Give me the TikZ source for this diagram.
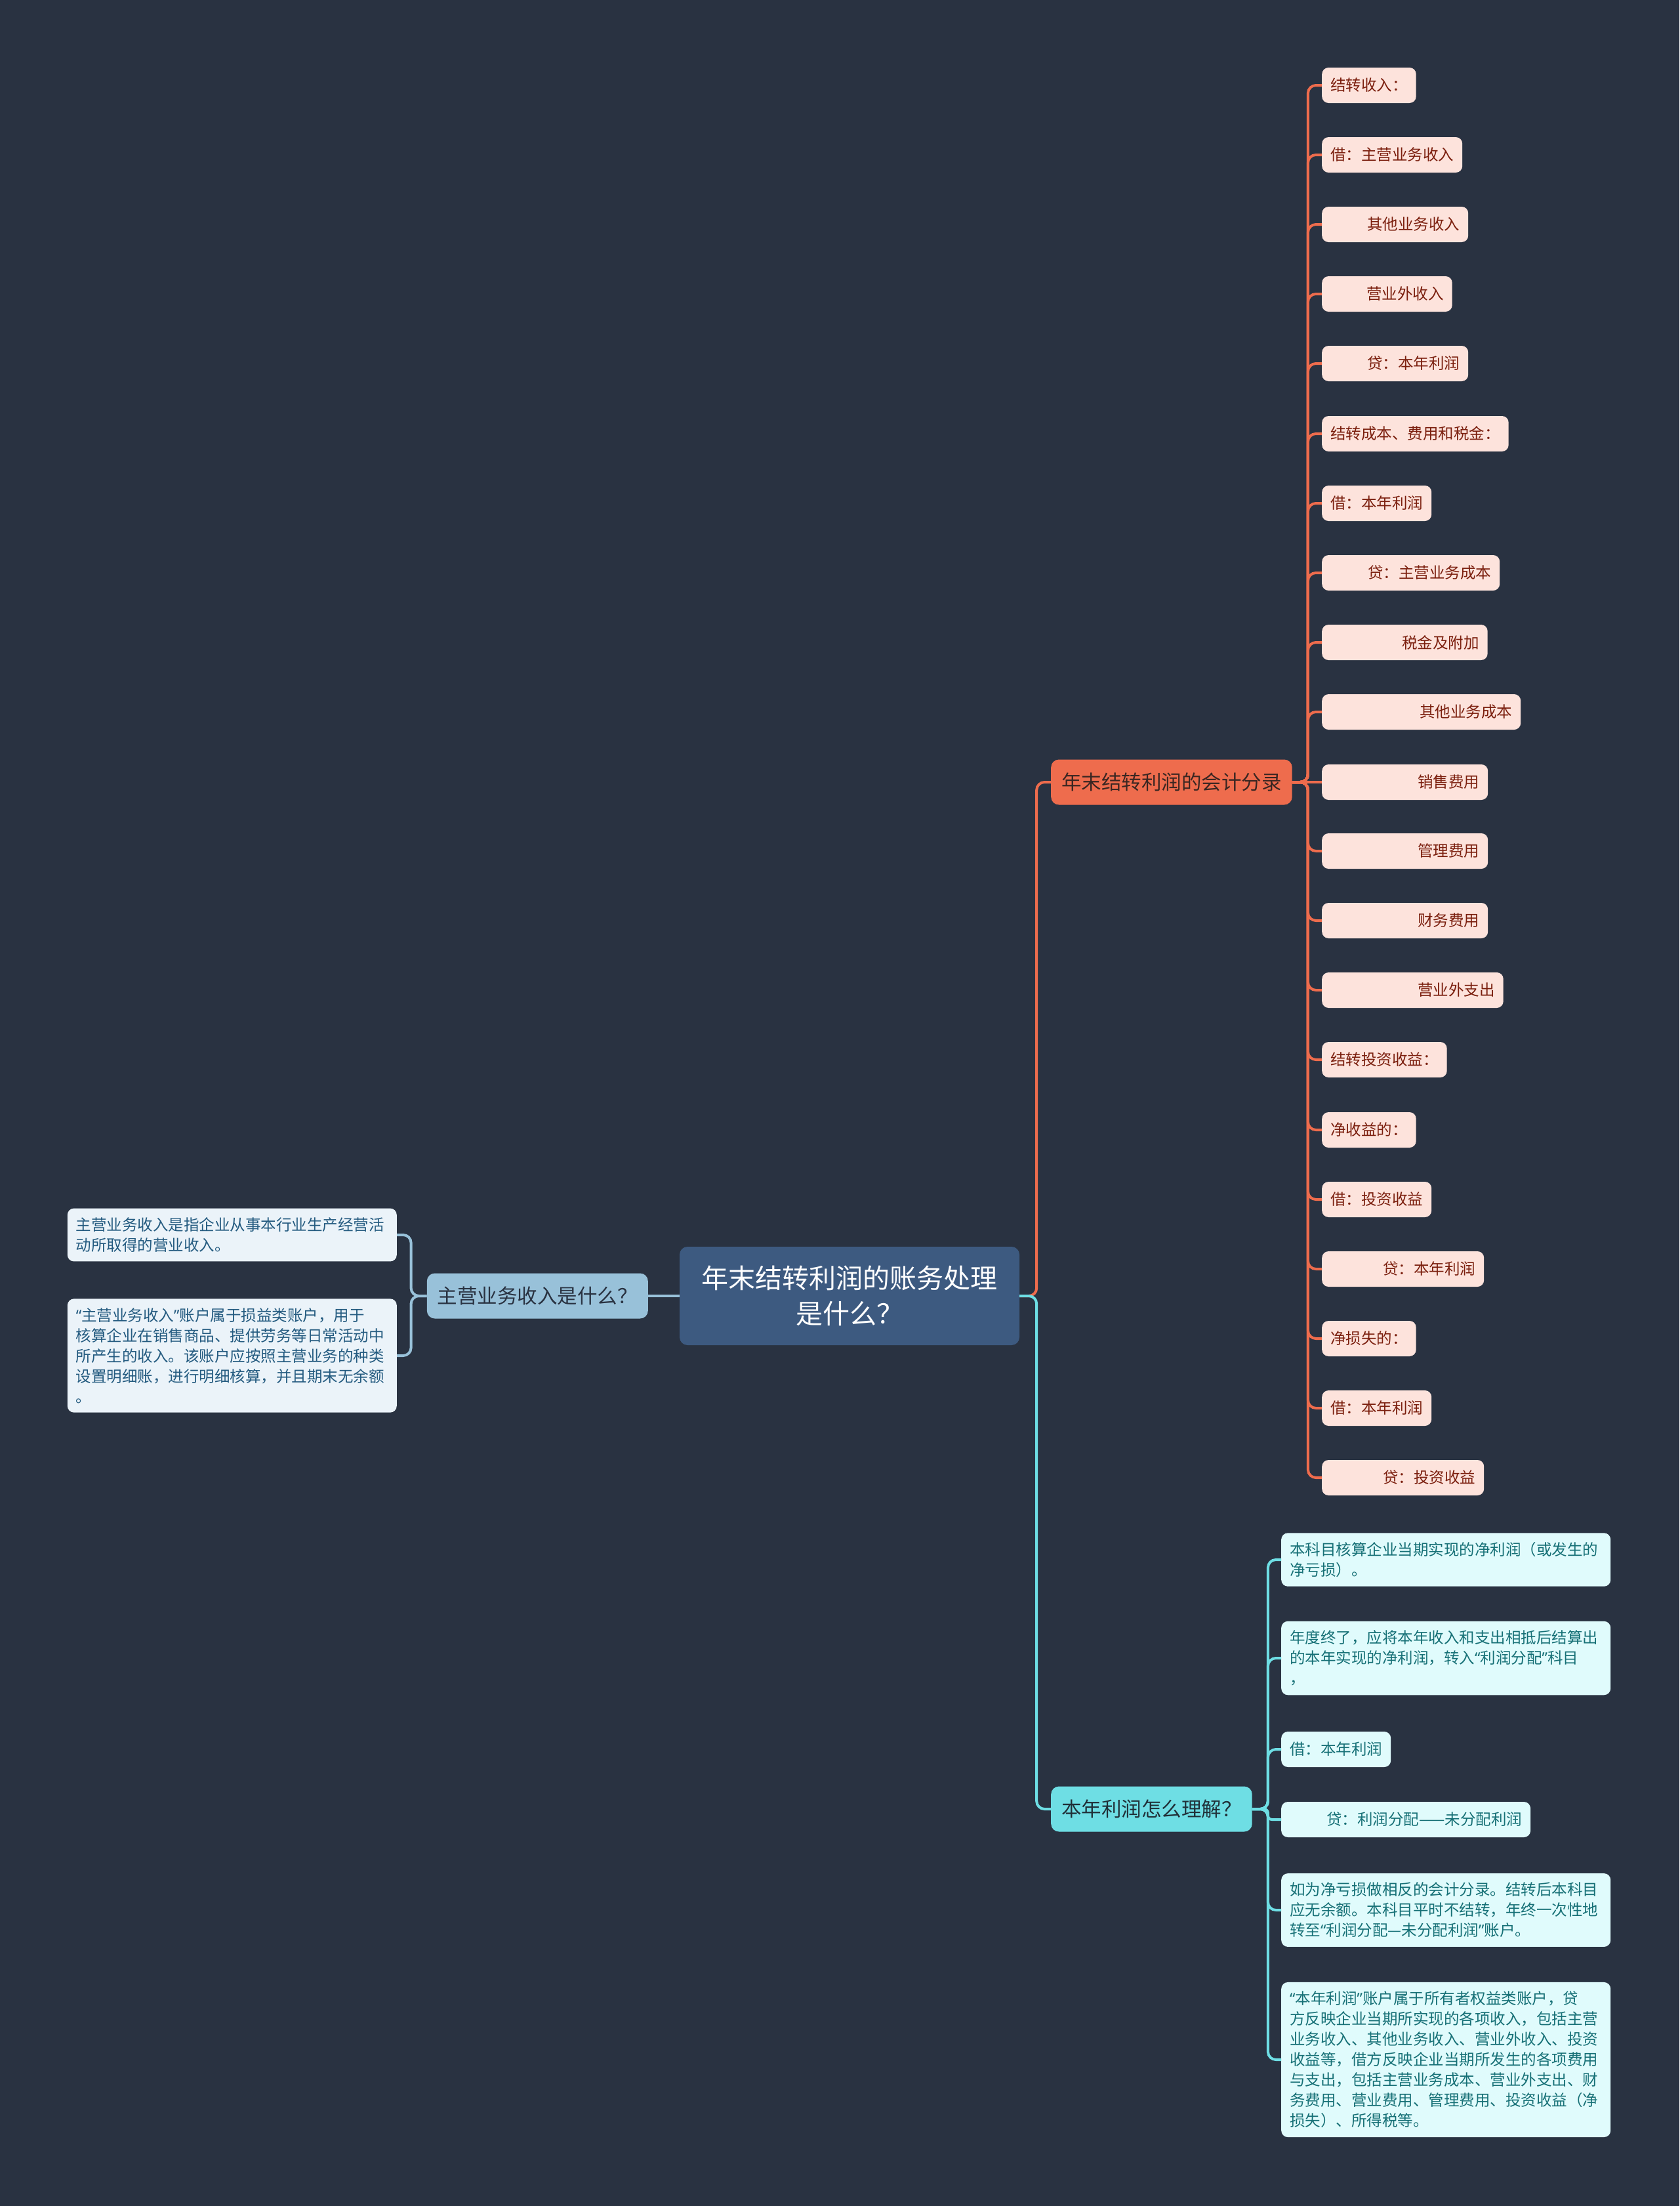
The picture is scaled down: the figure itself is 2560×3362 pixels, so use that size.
\documentclass[tikz,border=0pt]{standalone}
\usepackage{fontspec}
\setmainfont{Noto Sans CJK SC}
\newfontfamily\quotefont{Noto Sans}
\usepackage{xcolor}
\usepackage{tikz}

\newcommand{\qopen}{{\quotefont “}}
\newcommand{\qclose}{{\quotefont ”}}

\definecolor{bgdark}{HTML}{293241}
\definecolor{rootblue}{HTML}{3D5A80}
\definecolor{coral}{HTML}{EE6C4D}
\definecolor{coralpale}{HTML}{FDE3DC}
\definecolor{coraltext}{HTML}{7B1F0E}
\definecolor{coralink}{HTML}{3A2622}
\definecolor{skyblue}{HTML}{98C1D9}
\definecolor{skypale}{HTML}{EBF3F9}
\definecolor{skytext}{HTML}{245B80}
\definecolor{skyink}{HTML}{293241}
\definecolor{aqua}{HTML}{6EDEE4}
\definecolor{aquapale}{HTML}{E0FBFC}
\definecolor{aquatext}{HTML}{167076}
\definecolor{aquaink}{HTML}{203038}

\begin{document}
\begin{tikzpicture}[x=1pt, y=-1pt,
root/.style={rounded corners=12pt, fill=rootblue, text=white, font=\fontsize{41}{54}\selectfont, minimum width=518pt, minimum height=150pt, text width=470pt, align=center, inner sep=0pt},
branch/.style={rounded corners=12pt, font=\fontsize{30.5}{36}\selectfont, minimum height=69pt, inner xsep=16pt, inner ysep=0pt},
leaf/.style={rounded corners=10pt, font=\fontsize{23.5}{31}\selectfont, minimum height=54pt, inner xsep=13pt, inner ysep=0pt},
cleaf/.style={leaf, fill=coralpale, text=coraltext, anchor=west},
note/.style={rounded corners=10pt, font=\fontsize{23.5}{31}\selectfont, text width=476pt, align=left, inner xsep=13pt, inner ysep=14pt},
link/.style={line width=4pt, rounded corners=12pt}]

% page and background
\fill[bgdark] (0,0) rectangle (2560,3362);
\useasboundingbox (0,0) rectangle (2560,3362);

% central topic and its three branches
\node[root] (root) at (1295,1975) {年末结转利润的账务处理\\是什么？};
\node[branch, fill=skyblue, text=skyink, anchor=east] (lb) at (988,1975) {主营业务收入是什么？};
\node[branch, fill=coral, text=coralink, anchor=west] (ob) at (1602,1192) {年末结转利润的会计分录};
\node[branch, fill=aqua, text=aquaink, anchor=west] (ab) at (1602,2757) {本年利润怎么理解？};

% left notes
\node[note, fill=skypale, text=skytext, anchor=east] (l1) at (605,1882) {主营业务收入是指企业从事本行业生产经营活\\动所取得的营业收入。};
\node[note, fill=skypale, text=skytext, anchor=east] (l2) at (605,2066) {\qopen 主营业务收入\qclose 账户属于损益类账户，用于\\核算企业在销售商品、提供劳务等日常活动中\\所产生的收入。该账户应按照主营业务的种类\\设置明细账，进行明细核算，并且期末无余额\\。};

% journal entries
\node[cleaf] (o1) at (2015,130) {结转收入：};
\node[cleaf] (o2) at (2015,236) {借：主营业务收入};
\node[cleaf] (o3) at (2015,342) {\hspace*{56pt}其他业务收入};
\node[cleaf] (o4) at (2015,448) {\hspace*{55pt}营业外收入};
\node[cleaf] (o5) at (2015,554) {\hspace*{56pt}贷：本年利润};
\node[cleaf] (o6) at (2015,661) {结转成本、费用和税金：};
\node[cleaf] (o7) at (2015,767) {借：本年利润};
\node[cleaf] (o8) at (2015,873) {\hspace*{57pt}贷：主营业务成本};
\node[cleaf] (o9) at (2015,979) {\hspace*{109pt}税金及附加};
\node[cleaf] (o10) at (2015,1085) {\hspace*{136pt}其他业务成本};
\node[cleaf] (o11) at (2015,1192) {\hspace*{133pt}销售费用};
\node[cleaf] (o12) at (2015,1297) {\hspace*{133pt}管理费用};
\node[cleaf] (o13) at (2015,1403) {\hspace*{133pt}财务费用};
\node[cleaf] (o14) at (2015,1509) {\hspace*{133pt}营业外支出};
\node[cleaf] (o15) at (2015,1615) {结转投资收益：};
\node[cleaf] (o16) at (2015,1722) {净收益的：};
\node[cleaf] (o17) at (2015,1828) {借：投资收益};
\node[cleaf] (o18) at (2015,1934) {\hspace*{80pt}贷：本年利润};
\node[cleaf] (o19) at (2015,2040) {净损失的：};
\node[cleaf] (o20) at (2015,2146) {借：本年利润};
\node[cleaf] (o21) at (2015,2252) {\hspace*{80pt}贷：投资收益};

% notes on the profit account
\node[note, fill=aquapale, text=aquatext, anchor=west] (a1) at (1953,2377) {本科目核算企业当期实现的净利润（或发生的\\净亏损）。};
\node[note, fill=aquapale, text=aquatext, anchor=west] (a2) at (1953,2527) {年度终了，应将本年收入和支出相抵后结算出\\的本年实现的净利润，转入\qopen 利润分配\qclose 科目\\，};
\node[leaf, fill=aquapale, text=aquatext, anchor=west] (a3) at (1953,2666) {借：本年利润};
\node[leaf, fill=aquapale, text=aquatext, anchor=west] (a4) at (1953,2773) {\hspace*{56pt}贷：利润分配——未分配利润};
\node[note, fill=aquapale, text=aquatext, anchor=west] (a5) at (1953,2911) {如为净亏损做相反的会计分录。结转后本科目\\应无余额。本科目平时不结转，年终一次性地\\转至\qopen 利润分配—未分配利润\qclose 账户。};
\node[note, fill=aquapale, text=aquatext, anchor=west] (a6) at (1953,3139) {\qopen 本年利润\qclose 账户属于所有者权益类账户，贷\\方反映企业当期所实现的各项收入，包括主营\\业务收入、其他业务收入、营业外收入、投资\\收益等，借方反映企业当期所发生的各项费用\\与支出，包括主营业务成本、营业外支出、财\\务费用、营业费用、管理费用、投资收益（净\\损失）、所得税等。};

% connectors
\draw[link, skyblue] (root.west) -- (lb.east);
\draw[link, skyblue] (lb.west) -- ++(-24,0) |- (l1.east);
\draw[link, skyblue] (lb.west) -- ++(-24,0) |- (l2.east);
\draw[link, coral] (root.east) -- ++(26,0) |- (ob.west);
\draw[link, aqua] (root.east) -- ++(26,0) |- (ab.west);

\draw[link, coral] (ob.east) -- ++(24,0) |- (o1.west);
\draw[link, coral] (ob.east) -- ++(24,0) |- (o2.west);
\draw[link, coral] (ob.east) -- ++(24,0) |- (o3.west);
\draw[link, coral] (ob.east) -- ++(24,0) |- (o4.west);
\draw[link, coral] (ob.east) -- ++(24,0) |- (o5.west);
\draw[link, coral] (ob.east) -- ++(24,0) |- (o6.west);
\draw[link, coral] (ob.east) -- ++(24,0) |- (o7.west);
\draw[link, coral] (ob.east) -- ++(24,0) |- (o8.west);
\draw[link, coral] (ob.east) -- ++(24,0) |- (o9.west);
\draw[link, coral] (ob.east) -- ++(24,0) |- (o10.west);
\draw[link, coral] (ob.east) -- (o11.west);
\draw[link, coral] (ob.east) -- ++(24,0) |- (o12.west);
\draw[link, coral] (ob.east) -- ++(24,0) |- (o13.west);
\draw[link, coral] (ob.east) -- ++(24,0) |- (o14.west);
\draw[link, coral] (ob.east) -- ++(24,0) |- (o15.west);
\draw[link, coral] (ob.east) -- ++(24,0) |- (o16.west);
\draw[link, coral] (ob.east) -- ++(24,0) |- (o17.west);
\draw[link, coral] (ob.east) -- ++(24,0) |- (o18.west);
\draw[link, coral] (ob.east) -- ++(24,0) |- (o19.west);
\draw[link, coral] (ob.east) -- ++(24,0) |- (o20.west);
\draw[link, coral] (ob.east) -- ++(24,0) |- (o21.west);

\draw[link, aqua] (ab.east) -- ++(24,0) |- (a1.west);
\draw[link, aqua] (ab.east) -- ++(24,0) |- (a2.west);
\draw[link, aqua] (ab.east) -- ++(24,0) |- (a3.west);
\draw[link, aqua, rounded corners=6pt] (ab.east) -- ++(24,0) |- (a4.west);
\draw[link, aqua] (ab.east) -- ++(24,0) |- (a5.west);
\draw[link, aqua] (ab.east) -- ++(24,0) |- (a6.west);
\end{tikzpicture}
\end{document}
